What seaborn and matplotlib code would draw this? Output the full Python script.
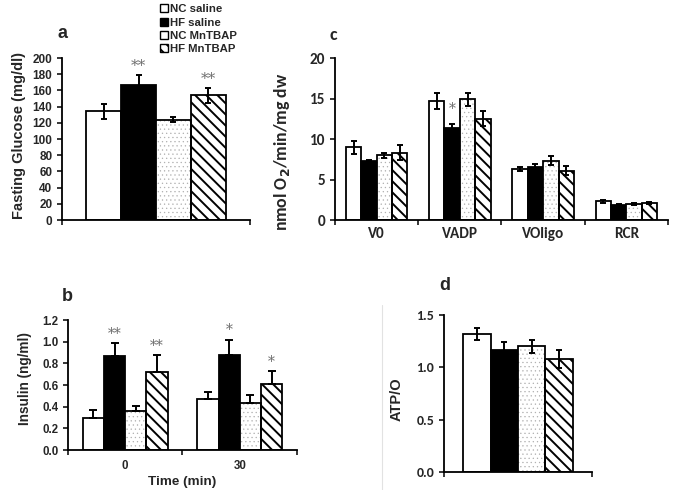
import numpy as np
import pandas as pd
import matplotlib
matplotlib.use('Agg')
import matplotlib.pyplot as plt
from matplotlib.patches import Patch, Rectangle
from matplotlib.lines import Line2D
import seaborn as sns

# ========================================================================================================= #

groups = ['NC saline', 'HF saline', 'NC MnTBAP', 'HF MnTBAP']

# a. fasting glucose (mg/dl)
glucose_mean = [134, 167, 124, 154]
glucose_sem = [9, 12, 3, 9]
glucose_sig = ['', '**', '', '**']

# b. insulin (ng/ml) at 0 and 30 min
insulin_times = ['0', '30']
insulin_mean_0 = [0.30, 0.87, 0.36, 0.72]
insulin_sem_0 = [0.07, 0.12, 0.05, 0.16]
insulin_sig_0 = ['', '**', '', '**']
insulin_mean_30 = [0.47, 0.88, 0.43, 0.61]
insulin_sem_30 = [0.07, 0.14, 0.08, 0.12]
insulin_sig_30 = ['', '*', '', '*']

# c. respiration (nmol O2/min/mg dw)
resp_states = ['V0', 'VADP', 'VOligo', 'RCR']
resp_nc_saline = [9.0, 14.7, 6.3, 2.3]
resp_nc_saline_sem = [0.8, 1.0, 0.25, 0.15]
resp_hf_saline = [7.3, 11.4, 6.6, 1.85]
resp_hf_saline_sem = [0.05, 0.5, 0.3, 0.1]
resp_nc_mn = [8.0, 14.9, 7.3, 2.0]
resp_nc_mn_sem = [0.3, 0.8, 0.55, 0.1]
resp_hf_mn = [8.3, 12.5, 6.1, 2.1]
resp_hf_mn_sem = [0.9, 0.9, 0.55, 0.1]
resp_sig_vadp = ['', '*', '', '']

# d. ATP/O
atp_mean = [1.32, 1.17, 1.20, 1.08]
atp_sem = [0.06, 0.07, 0.065, 0.09]

# ========================================================================================================= #

sns.set_style('ticks')
plt.rcParams['font.family'] = ['Liberation Sans', 'DejaVu Sans']
plt.rcParams['font.weight'] = 'bold'
plt.rcParams['hatch.linewidth'] = 1.4
calibri = ['Carlito', 'Lato', 'DejaVu Sans']

LW = 1.3
DOT_GRAY = '#b0b0b0'
STAR_GRAY = '#6e6e6e'


def frame(cats, means, sems, sigs):
    rows = []
    for c, m, s, g in zip(cats, means, sems, sigs):
        for grp, mm, ss, gg in zip(groups, m, s, g):
            rows.append({'x': c, 'group': grp, 'mean': mm, 'sem': ss, 'sig': gg})
    return pd.DataFrame(rows)


def draw_panel(ax, df, order, one_sided=False, capsize=2.3, star_off=0.0, star_size=11):
    sns.barplot(data=df, x='x', y='mean', hue='group', order=order, hue_order=groups,
                palette=['white', 'black', 'white', 'white'], width=0.74, gap=0,
                edgecolor='black', linewidth=LW, errorbar=None, legend=False, ax=ax)
    bars = list(ax.containers)
    for i, cont in enumerate(bars):
        for bar in cont:
            xc = bar.get_x() + bar.get_width() / 2
            cat = order[int(round(xc))]
            row = df[(df['group'] == groups[i]) & (df['x'] == cat)].iloc[0]
            if i == 2:
                # sparse light-grey dots, black outline drawn on top
                bar.set_hatch('....')
                bar.set_edgecolor(DOT_GRAY)
                bar.set_linewidth(0)
                if hasattr(bar, 'set_hatch_linewidth'):
                    bar.set_hatch_linewidth(0.4)
                ax.add_patch(Rectangle(bar.get_xy(), bar.get_width(), bar.get_height(),
                                       fill=False, edgecolor='black', linewidth=LW, zorder=bar.get_zorder() + 0.1))
            elif i == 3:
                bar.set_hatch('\\\\\\')
            yerr = [[0], [row['sem']]] if one_sided else row['sem']
            ax.errorbar(xc, row['mean'], yerr=yerr, fmt='none', ecolor='black',
                        elinewidth=1.4, capsize=capsize, capthick=1.4, zorder=5)
            if row['sig']:
                ax.text(xc, row['mean'] + row['sem'] + star_off, row['sig'], ha='center', va='bottom',
                        color=STAR_GRAY, fontsize=star_size, fontweight='normal', family='DejaVu Serif')


def style_axes(ax, cats, tick_font, tick_size):
    n = len(cats)
    ax.set_xlim(-0.5, n - 0.5)
    ax.set_xticks(np.arange(n + 1) - 0.5)
    ax.set_xticklabels([])
    if n > 1:
        ax.set_xticks(range(n), minor=True)
        ax.set_xticklabels(cats, minor=True)
    ax.tick_params(axis='x', which='minor', length=0, pad=5)
    ax.tick_params(axis='both', which='major', direction='out', length=3.5, width=LW)
    for lab in ax.get_yticklabels() + ax.get_xticklabels(minor=True):
        lab.set_family(tick_font)
        lab.set_fontsize(tick_size)
        lab.set_fontweight('bold')
    ax.set_xlabel('')
    ax.set_ylabel('')
    for sp in ['left', 'bottom']:
        ax.spines[sp].set_linewidth(LW)
        ax.spines[sp].set_color('black')
    sns.despine(ax=ax)


fig = plt.figure(figsize=(6.75, 4.9), dpi=100)
fig.patch.set_facecolor('white')
ax_a = fig.add_axes([0.0919, 0.551, 0.2785, 0.3306])
ax_b = fig.add_axes([0.1007, 0.0816, 0.3393, 0.2653])
ax_c = fig.add_axes([0.4963, 0.551, 0.4933, 0.3306])
ax_d = fig.add_axes([0.6578, 0.0367, 0.2193, 0.3204])

# a
df_a = frame([''], [glucose_mean], [glucose_sem], [glucose_sig])
draw_panel(ax_a, df_a, [''], star_off=3, star_size=11)
ax_a.set_ylim(0, 200)
ax_a.set_yticks(range(0, 201, 20))
style_axes(ax_a, [''], ['Liberation Sans'], 8.5)
ax_a.set_ylabel('Fasting Glucose (mg/dl)', fontsize=10.5, fontweight='bold')
ax_a.yaxis.set_label_coords(-0.19, 0.52)

# b
df_b = frame(insulin_times, [insulin_mean_0, insulin_mean_30], [insulin_sem_0, insulin_sem_30],
             [insulin_sig_0, insulin_sig_30])
draw_panel(ax_b, df_b, insulin_times, one_sided=True, capsize=3, star_off=0.02, star_size=10)
ax_b.set_ylim(0, 1.2)
ax_b.set_yticks(np.arange(0, 1.21, 0.2))
ax_b.yaxis.set_major_formatter(matplotlib.ticker.FormatStrFormatter('%.1f'))
style_axes(ax_b, insulin_times, ['Liberation Sans'], 8.3)
ax_b.tick_params(axis='x', which='minor', pad=7)
ax_b.set_ylabel('Insulin (ng/ml)', fontsize=9.8, fontweight='bold')
ax_b.yaxis.set_label_coords(-0.155, 0.55)
ax_b.set_xlabel('Time (min)', fontsize=9.7, fontweight='bold', labelpad=3)

# c
df_c = frame(resp_states,
             list(zip(resp_nc_saline, resp_hf_saline, resp_nc_mn, resp_hf_mn)),
             list(zip(resp_nc_saline_sem, resp_hf_saline_sem, resp_nc_mn_sem, resp_hf_mn_sem)),
             [['', '', '', ''], resp_sig_vadp, ['', '', '', ''], ['', '', '', '']])
draw_panel(ax_c, df_c, resp_states, star_off=1.0, star_size=10)
ax_c.set_ylim(0, 20)
ax_c.set_yticks(range(0, 21, 5))
style_axes(ax_c, resp_states, calibri, 11)
ax_c.set_ylabel('nmol O$_\\mathbf{2}$/min/mg dw', fontsize=12.8, fontweight='bold', family=calibri)
ax_c.yaxis.set_label_coords(-0.13, 0.42)

# d
df_d = frame([''], [atp_mean], [atp_sem], [['', '', '', '']])
draw_panel(ax_d, df_d, [''])
ax_d.set_ylim(0, 1.5)
ax_d.set_yticks([0, 0.5, 1.0, 1.5])
ax_d.yaxis.set_major_formatter(matplotlib.ticker.FormatStrFormatter('%.1f'))
style_axes(ax_d, [''], calibri, 10)
ax_d.set_ylabel('ATP/O', fontsize=10.5, fontweight='bold')
ax_d.yaxis.set_label_coords(-0.27, 0.465)

# panel letters
fig.text(63 / 675, 1 - 33 / 490, 'a', fontsize=13, fontweight='bold', ha='center', va='center')
fig.text(67 / 675, 1 - 296 / 490, 'b', fontsize=13, fontweight='bold', ha='center', va='center')
fig.text(333 / 675, 1 - 35 / 490, 'c', fontsize=13, fontweight='bold', ha='center', va='center', family=calibri)
fig.text(445 / 675, 1 - 285 / 490, 'd', fontsize=13, fontweight='bold', ha='center', va='center')

# thin frame line left of panel d
fig.add_artist(Line2D([382 / 675, 382 / 675], [0, 1 - 305 / 490], color='#e2e2e2', linewidth=0.8))

# legend
handles = [Patch(facecolor='white', edgecolor='black', linewidth=1),
           Patch(facecolor='black', edgecolor='black', linewidth=1),
           Patch(facecolor='white', edgecolor='black', linewidth=1),
           Patch(facecolor='white', edgecolor='black', linewidth=1, hatch='\\\\\\')]
fig.legend(handles, groups, loc='upper left', bbox_to_anchor=(159 / 675, 1 - 3 / 490),
           frameon=False, prop={'family': 'Liberation Sans', 'weight': 'bold', 'size': 8.2},
           handlelength=0.7, handleheight=0.7, handletextpad=0.2, labelspacing=0.3,
           borderpad=0.1, borderaxespad=0)

plt.savefig('out.png', dpi=100)
